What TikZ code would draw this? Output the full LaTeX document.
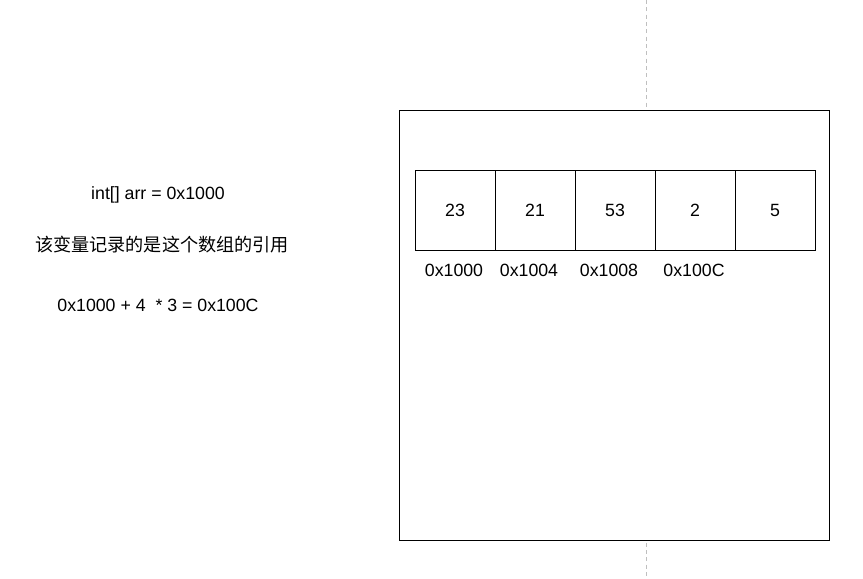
\documentclass[tikz,border=0pt]{standalone}
\usepackage{fontspec}
\setmainfont{Liberation Sans}
\newfontfamily\cjk{Noto Sans CJK SC}
\usetikzlibrary{positioning}

\begin{document}
\begin{tikzpicture}[
x=0.75pt, y=-0.75pt,
every node/.style={font=\fontsize{13.3}{16}\selectfont},
cell/.style={draw, rectangle, line width=0.75pt, minimum width=60pt, minimum height=60pt, inner sep=0pt, outer sep=0pt, text height=9.6pt, text depth=0pt},
memory/.style={draw, rectangle, fill=white, line width=0.75pt, minimum width=322.5pt, minimum height=322.5pt, inner sep=0pt},
guide/.style={draw=black!25, line width=0.75pt, dash pattern=on 3pt off 2.5pt}
]
\useasboundingbox (0,0) rectangle (863,578);

% dashed page guide, hidden behind the memory box
\coordinate (top) at (646,0);
\coordinate (bottom) at (646,578);
\draw[guide] (top) -- (bottom);

\node[memory] (heap) at (614,325) {};

% the array cells
\node[cell] (c1) at (455,210) {23};
\node[cell, right=0pt of c1] (c2) {21};
\node[cell, right=0pt of c2] (c3) {53};
\node[cell, right=0pt of c3] (c4) {2};
\node[cell, right=0pt of c4] (c5) {5};

% addresses
\node (a1) at (454,270) {0x1000};
\node (a2) at (529,270) {0x1004};
\node (a3) at (609,270) {0x1008};
\node (a4) at (694,270) {0x100C};

% left side text
\node (decl) at (158,195) {int[] arr = 0x1000};
\node (note) at (162,245) {\cjk\fontsize{13.6}{17}\selectfont 该变量记录的是这个数组的引用};
\node (calc) at (158,305) {0x1000 + 4\ \ * 3 = 0x100C};

\end{tikzpicture}
\end{document}
